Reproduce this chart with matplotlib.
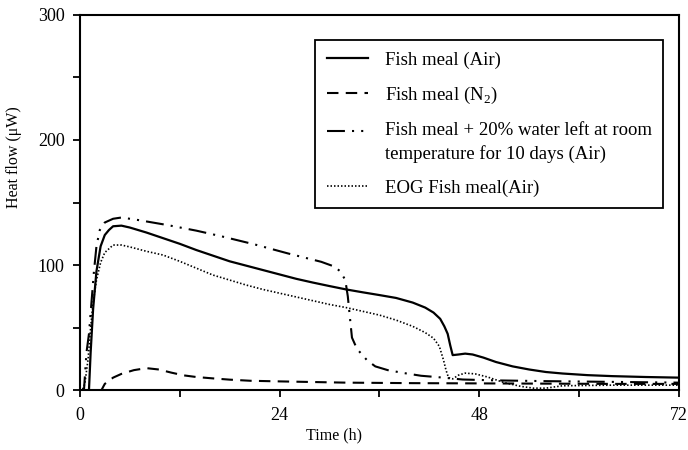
import matplotlib
matplotlib.use("Agg")
import matplotlib.pyplot as plt
from matplotlib.ticker import MultipleLocator
from matplotlib.legend_handler import HandlerLine2D

plt.rcParams["font.family"] = ["Liberation Serif", "DejaVu Serif"]
plt.rcParams["mathtext.fontset"] = "custom"
plt.rcParams["mathtext.rm"] = "Liberation Serif"

# Fish meal (Air)
air_t = [0, 1.1, 1.3, 1.6, 2.0, 2.5, 3.0, 3.5, 4.0, 5.0, 6, 8, 10, 12, 14, 16, 18,
         20, 22, 24, 26, 28, 30, 32, 34, 36, 38, 40, 41.5, 42.5, 43.3, 43.8, 44.2,
         44.5, 44.8, 45.5, 46.3, 47.2, 48.5, 50, 52, 54, 56, 58, 61, 64, 68, 72]
air_v = [0, 0, 30, 65, 95, 115, 124, 128, 131, 131.5, 130, 126, 121.5, 117, 112,
         107.5, 103, 99.5, 96, 92.5, 89, 86, 83.2, 80.5, 78.2, 76, 73.7, 70, 66,
         62, 57, 51, 45, 36, 28, 28.5, 29.2, 28.5, 26, 22.5, 19, 16.5, 14.5, 13.3,
         12, 11.2, 10.5, 10]

# Fish meal (N2)
n2_t = [0, 2.6, 3.0, 4.0, 5.0, 6.5, 8.0, 9.5, 11, 12.5, 14, 16, 18, 20.5, 24, 28,
        32, 40, 48, 56, 64, 72]
n2_v = [0, 0, 5, 10, 13, 16, 17.6, 16.5, 14, 11.8, 10.5, 9.4, 8.4, 7.5, 7, 6.5,
        6, 5.6, 5.4, 5.2, 5, 5]

# Fish meal + 20% water, 10 days at room temperature (Air)
wet_t = [0, 0.5, 0.8, 1.1, 1.4, 1.7, 2.0, 2.4, 3.0, 4.0, 5.0, 7.0, 10.5, 14, 17,
         21, 25, 29, 30.5, 31.3, 31.9, 32.2, 32.5, 32.7, 33.3, 34.5, 35.5, 37, 39,
         41, 43, 46, 50, 56, 64, 72]
wet_v = [0, 0, 30, 45, 70, 95, 115, 128, 134, 137, 138, 136, 132, 127.5, 123,
         116.5, 109.3, 102.6, 99, 95, 88, 75, 55, 42, 33, 24, 19, 16, 13.6, 11.5,
         10.4, 8.5, 7.8, 7.2, 6.6, 6]

# EOG Fish meal (Air)
eog_t = [0, 0.3, 0.6, 1.0, 1.3, 1.6, 2.0, 2.5, 3.0, 4.0, 5.0, 6, 8, 10, 12, 14, 16,
         18, 20, 22, 24, 26, 28, 30, 32, 34, 36, 38, 40, 41.5, 42.5, 43.2, 43.7,
         44.0, 44.3, 44.8, 45.5, 46.3, 47.5, 49, 51, 53, 54.5, 56, 58, 64, 72]
eog_v = [0, 0, 5, 25, 50, 70, 88, 102, 110, 116, 116, 114.5, 111, 108, 103, 97.5,
         92, 88, 84, 80.5, 77.5, 74.5, 71.5, 68.5, 66, 63, 60, 56, 51, 46, 41.5,
         35, 24, 16, 10, 9, 12, 13.6, 13, 10.5, 6, 3, 1.6, 1.6, 3.5, 4, 4]

labels = [
    "Fish meal (Air)",
    "Fish meal (N$_2$)",
    "Fish meal + 20% water left at room\ntemperature for 10 days (Air)",
    "EOG Fish meal(Air)",
]


class TopLineHandler(HandlerLine2D):
    """Legend handle aligned with the first line of a two-line label."""

    def __init__(self, shift, **kw):
        super().__init__(**kw)
        self.shift = shift

    def create_artists(self, legend, orig_handle, xdescent, ydescent, width,
                       height, fontsize, trans):
        arts = super().create_artists(legend, orig_handle, xdescent, ydescent,
                                      width, height, fontsize, trans)
        for a in arts:
            a.set_ydata([y + self.shift for y in a.get_ydata()])
        return arts


fig = plt.figure(figsize=(6.88, 4.5), dpi=100)
ax = fig.add_axes([0.116, 0.133, 0.871, 0.834])

ax.plot(air_t, air_v, color="black", lw=1.6, label=labels[0])
ax.plot(n2_t, n2_v, color="black", lw=1.5, linestyle=(0, (5.5, 3.5)), label=labels[1])
wet_line, = ax.plot(wet_t, wet_v, color="black", lw=1.5,
                    linestyle=(0, (8.6, 3.4, 1.0, 3.4, 1.0, 3.4)), label=labels[2])
ax.plot(eog_t, eog_v, color="black", lw=1.2, linestyle=(0, (0.9, 1.2)), label=labels[3])

ax.set_xlim(0, 72)
ax.set_ylim(0, 300)
ax.xaxis.set_major_locator(MultipleLocator(24))
ax.xaxis.set_minor_locator(MultipleLocator(12))
ax.yaxis.set_major_locator(MultipleLocator(100))
ax.yaxis.set_minor_locator(MultipleLocator(50))
ax.tick_params(which="both", direction="out", width=1.3, length=5, labelsize=13,
               colors="black")
ax.tick_params(axis="y", which="major", pad=6)
ax.tick_params(axis="x", which="major", pad=7)
for s in ax.spines.values():
    s.set_linewidth(1.5)

ax.set_xlabel("Time (h)", fontsize=11.5)
ax.set_ylabel("Heat flow (\u03bcW)", fontsize=11.5)
ax.xaxis.set_label_coords(0.425, -0.1)
ax.yaxis.set_label_coords(-0.097, 0.62)

leg = ax.legend(loc="upper right", bbox_to_anchor=(0.973, 0.933), fontsize=13.5,
                frameon=True, fancybox=False, edgecolor="black", framealpha=1,
                handlelength=2.2, handletextpad=0.9, labelspacing=0.87,
                borderpad=0.6, borderaxespad=0,
                handler_map={wet_line: TopLineHandler(8.6)})
leg.get_frame().set_linewidth(1.3)
for t in leg.get_texts():
    t.set_linespacing(1.45)

fig.savefig("out.png", dpi=100)
